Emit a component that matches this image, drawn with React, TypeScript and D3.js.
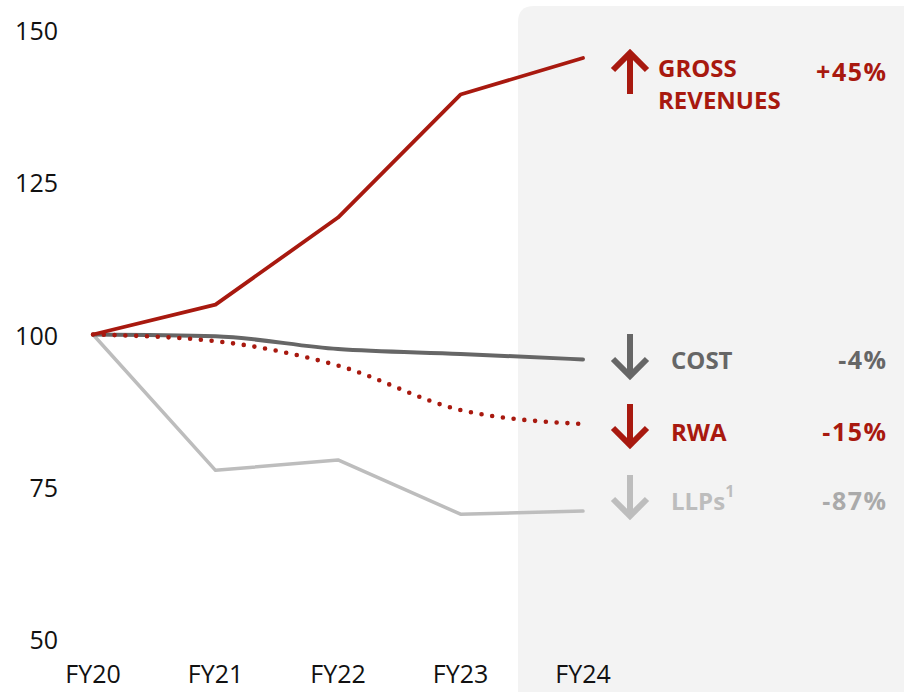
import React from 'react';
import { scaleLinear, scalePoint, line, curveLinear, curveMonotoneX } from 'd3';

const years = ['FY20', 'FY21', 'FY22', 'FY23', 'FY24'];
const yTicks = [50, 75, 100, 125, 150];

const grossRevenues = [100, 104.9, 119.2, 139.4, 145.4];
const cost = [100, 99.7, 97.6, 96.8, 95.9];
const rwa = [100, 98.9, 94.9, 87.6, 85.3];
const llps = [100, 77.7, 79.4, 70.5, 71.0];

const legendNames = [['GROSS', 'REVENUES'], ['COST'], ['RWA'], ['LLPs']];
const legendPct = ['+45%', '-4%', '-15%', '-87%'];

const width = 904;
const height = 692;
const red = '#a8190f';
const dark = '#666666';
const light = '#bdbdbd';
const font = "'Open Sans', sans-serif";

const App = () => {
  const x = scalePoint().domain(years).range([93, 583]);
  const y = scaleLinear().domain([50, 150]).range([639, 30]);

  const mk = (curve) =>
    line<number>()
      .x((d, i) => x(years[i]))
      .y(d => y(d))
      .curve(curve);

  const series = [
    { data: llps, color: light, w: 3.5, curve: curveLinear },
    { data: cost, color: dark, w: 4, curve: curveMonotoneX },
    { data: rwa, color: red, w: 4.6, curve: curveMonotoneX, dotted: true },
    { data: grossRevenues, color: red, w: 3.8, curve: curveLinear },
  ];

  // legend rows: arrow extents, colours, text centre y
  const rows = [
    { up: true, arrowTop: 52, arrowBot: 94, color: red, txt: red, pct: red, ys: [67, 99], pctY: 71, tx: 658 },
    { up: false, arrowTop: 334, arrowBot: 377, color: dark, txt: dark, pct: dark, ys: [359], pctY: 359, tx: 671 },
    { up: false, arrowTop: 404, arrowBot: 446, color: red, txt: red, pct: red, ys: [431], pctY: 431, tx: 671 },
    { up: false, arrowTop: 475, arrowBot: 517, color: light, txt: light, pct: '#aaaaaa', ys: [500], pctY: 500, tx: 671 },
  ];

  const arrowPath = (r) => {
    const cx = 630;
    if (r.up) {
      const t = r.arrowTop;
      return `M${cx},${r.arrowBot} L${cx},${t + 2} M${cx - 17},${t + 18} L${cx},${t + 1} L${cx + 17},${t + 18}`;
    }
    const b = r.arrowBot;
    return `M${cx},${r.arrowTop} L${cx},${b - 2} M${cx - 17},${b - 18} L${cx},${b - 1} L${cx + 17},${b - 18}`;
  };

  return (
    <svg width={width} height={height} style={{ position: 'absolute', left: 0, top: 0 }}>
      <rect x={0} y={0} width={width} height={height} fill="#ffffff" />
      <path d={`M518,${height} L518,22 Q518,6 534,6 L${width},6 L${width},${height} Z`} fill="#f3f3f3" />

      {yTicks.map(t => (
        <text key={t} x={58} y={y(t)} textAnchor="end" dominantBaseline="central"
          fontFamily={font} fontSize={25} fill="#111">{t}</text>
      ))}
      {years.map(yr => (
        <text key={yr} x={x(yr)} y={673} textAnchor="middle" dominantBaseline="central"
          fontFamily={font} fontSize={25} fill="#111">{yr}</text>
      ))}

      {series.map((s, i) => (
        <path key={i} d={mk(s.curve)(s.data)} fill="none" stroke={s.color}
          strokeWidth={s.w}
          strokeLinecap="round" strokeLinejoin="round"
          strokeDasharray={s.dotted ? '0 10.8' : undefined} />
      ))}

      {rows.map((r, i) => (
        <g key={i}>
          <path d={arrowPath(r)} fill="none" stroke={r.color} strokeWidth={6} strokeLinecap="butt" strokeLinejoin="miter" />
          {legendNames[i].map((n, j) => (
            <text key={j} x={r.tx} y={r.ys[j]} dominantBaseline="central"
              fontFamily={font} fontWeight="bold" fontSize={24} fill={r.txt}>
              {n}
              {n === 'LLPs' ? <tspan fontSize={16} dy={-9}>1</tspan> : null}
            </text>
          ))}
          <text x={887.5} y={r.pctY} textAnchor="end" dominantBaseline="central"
            fontFamily={font} fontWeight="bold" fontSize={25} letterSpacing={1.5} fill={r.pct}>{legendPct[i]}</text>
        </g>
      ))}
    </svg>
  );
};

export default App;
